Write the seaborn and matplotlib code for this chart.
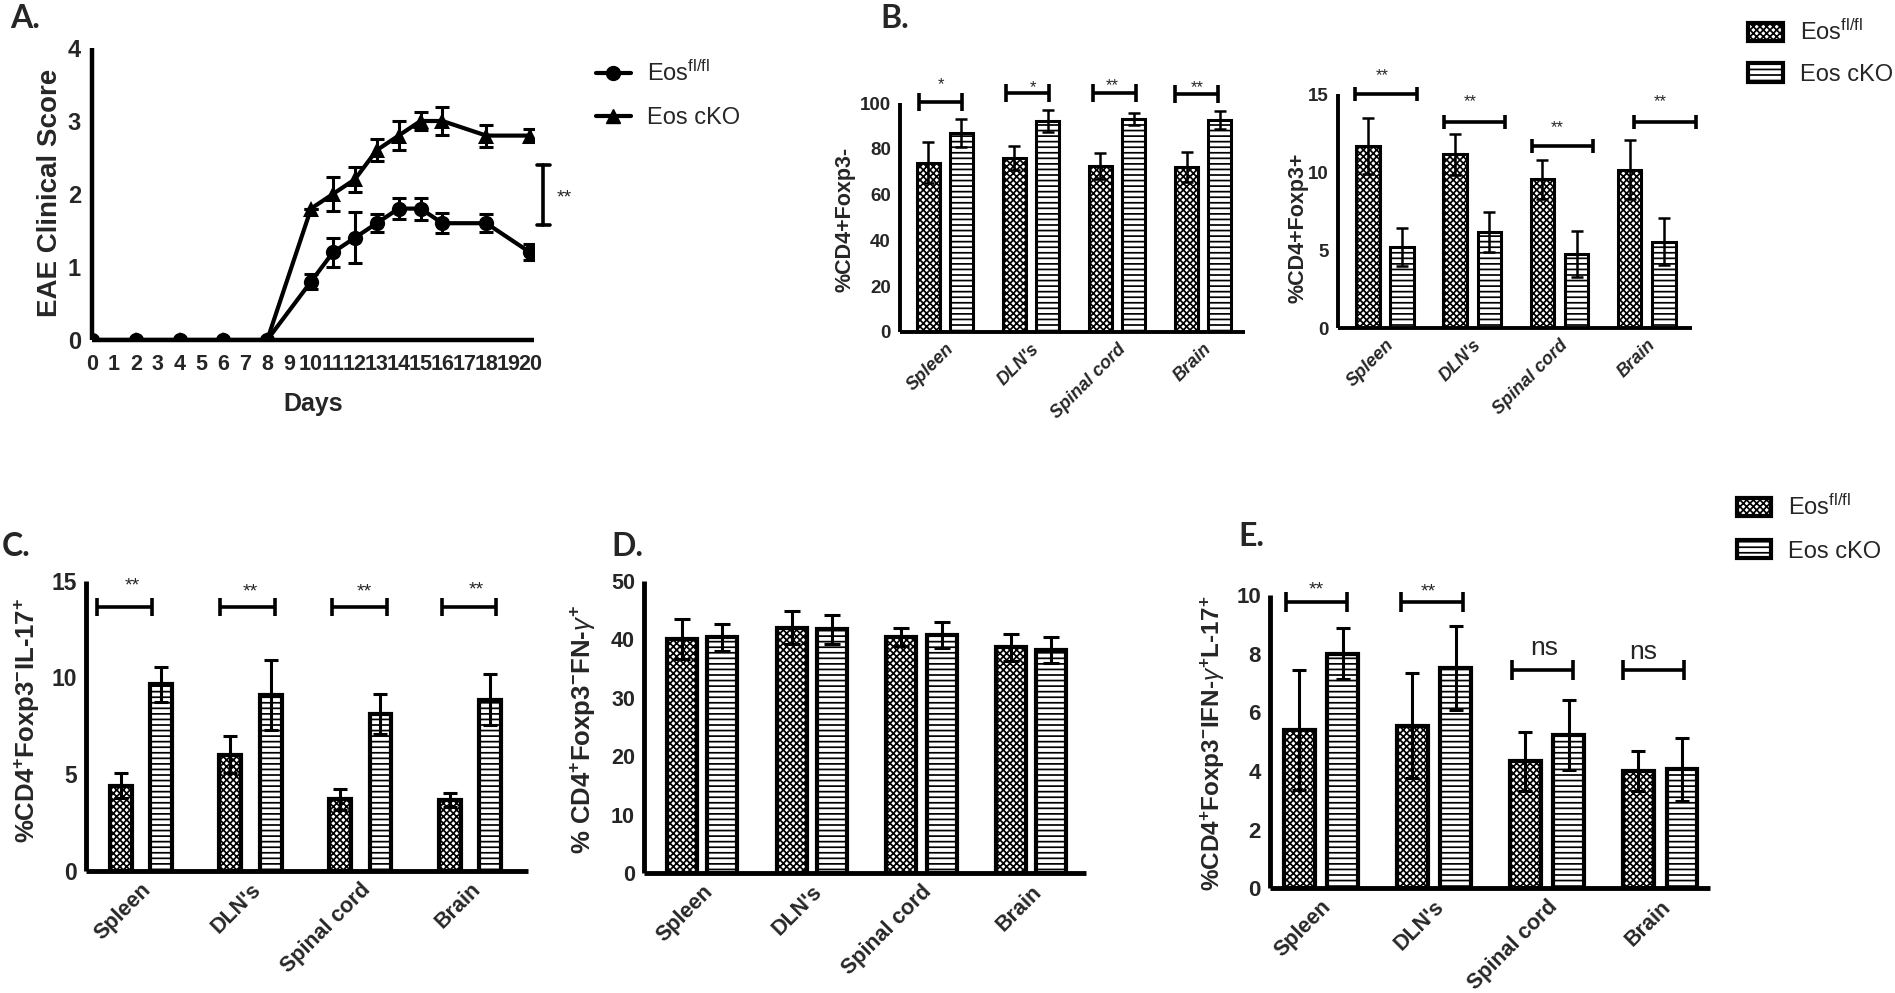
import numpy as np
import pandas as pd
import matplotlib
matplotlib.use("Agg")
import matplotlib.pyplot as plt
import seaborn as sns
from matplotlib import font_manager
from matplotlib.lines import Line2D
from matplotlib.patches import Patch

# ---------------- data ----------------
days = [0, 2, 4, 6, 8, 10, 11, 12, 13, 14, 15, 16, 18, 20]
eae_fl = [0, 0, 0, 0, 0, 0.8, 1.2, 1.4, 1.6, 1.8, 1.8, 1.6, 1.6, 1.2]
eae_fl_sem = [0, 0, 0, 0, 0, 0.1, 0.2, 0.35, 0.12, 0.14, 0.15, 0.14, 0.12, 0.11]
eae_cko = [0, 0, 0, 0, 0, 1.8, 2.0, 2.2, 2.6, 2.8, 3.0, 3.0, 2.8, 2.8]
eae_cko_sem = [0, 0, 0, 0, 0, 0, 0.23, 0.17, 0.15, 0.2, 0.13, 0.19, 0.15, 0.09]

tissues = ["Spleen", "DLN's", "Spinal cord", "Brain"]
groups = ["Eos fl/fl", "Eos cKO"]
legend_labels = [r"Eos$^{\mathregular{fl/fl}}$", "Eos cKO"]

b1_fl = [74, 76, 72.5, 72]
b1_fl_err = [9, 5.3, 5.8, 6.5]
b1_cko = [87, 92, 93, 92.5]
b1_cko_err = [6, 4.8, 2.6, 4]

b2_fl = [11.7, 11.15, 9.55, 10.15]
b2_fl_err = [1.8, 1.3, 1.25, 1.9]
b2_cko = [5.2, 6.15, 4.75, 5.55]
b2_cko_err = [1.25, 1.3, 1.45, 1.5]

c_fl = [4.4, 6.0, 3.7, 3.65]
c_fl_err = [0.65, 0.95, 0.55, 0.38]
c_cko = [9.65, 9.1, 8.1, 8.85]
c_cko_err = [0.9, 1.8, 1.05, 1.3]

d_fl = [40, 42, 40.4, 38.6]
d_fl_err = [3.4, 2.9, 1.6, 2.3]
d_cko = [40.3, 41.7, 40.7, 38.1]
d_cko_err = [2.3, 2.5, 2.2, 2.2]

e_fl = [5.4, 5.55, 4.33, 4.0]
e_fl_err = [2.05, 1.8, 1.0, 0.68]
e_cko = [8.0, 7.5, 5.23, 4.06]
e_cko_err = [0.87, 1.43, 1.2, 1.08]

# significance brackets: (x start, x end, y, label, label x, label y)
sig_b1 = [(-0.30, 0.20, 100.4, "*", -0.05, 107.9), (0.71, 1.21, 104.2, "*", 1.02, 106.5),
          (1.72, 2.22, 104.2, "**", 1.95, 107.4), (2.67, 3.17, 104.0, "**", 2.93, 106.5)]
sig_b2 = [(-0.34, 0.37, 15.0, "**", -0.03, 16.2), (0.67, 1.38, 13.25, "**", 0.975, 14.5),
          (1.68, 2.38, 11.7, "**", 1.98, 12.85), (2.86, 3.57, 13.25, "**", 3.16, 14.5)]
sig_c = [(-0.40, 0.10, 13.66, "**", -0.08, 14.73), (0.725, 1.226, 13.66, "**", 1.0, 14.43),
         (1.746, 2.247, 13.66, "**", 2.04, 14.43), (2.748, 3.24, 13.66, "**", 3.06, 14.52)]
sig_e = [(-0.31, 0.23, 9.77, "**", -0.04, 10.17), (0.708, 1.257, 9.77, "**", 0.947, 10.1),
         (1.69, 2.23, 7.44, "ns", 1.97, 8.2), (2.67, 3.21, 7.44, "ns", 2.85, 8.07)]

# ---------------- style ----------------
sns.set_style("white")
names = {f.name for f in font_manager.fontManager.ttflist}
MAIN = "Liberation Sans" if "Liberation Sans" in names else "DejaVu Sans"
NARROW = "Liberation Sans Narrow" if "Liberation Sans Narrow" in names else MAIN
LETTER = "Lato" if "Lato" in names else MAIN
plt.rcParams["font.family"] = [MAIN, "DejaVu Sans"]
plt.rcParams["mathtext.fontset"] = "custom"
plt.rcParams["mathtext.rm"] = MAIN
plt.rcParams["mathtext.bf"] = MAIN + ":bold"
plt.rcParams["mathtext.it"] = MAIN + ":italic"
plt.rcParams["hatch.linewidth"] = 1.25
plt.rcParams["hatch.color"] = "black"

W, H = 1895, 993
fig = plt.figure(figsize=(W / 100, H / 100), dpi=100)
fig.patch.set_facecolor("white")


def rect(l, r, t, b):
    return [l / W, 1 - b / H, (r - l) / W, (b - t) / H]


HATCH = ["xxxxx", "---"]


def style_axes(ax, spine_lw, ylab_size):
    sns.despine(ax=ax)
    for s in ("left", "bottom"):
        ax.spines[s].set_linewidth(spine_lw)
        ax.spines[s].set_color("black")
        ax.spines[s].set_capstyle("butt")
    ax.tick_params(axis="y", direction="out", length=5, width=spine_lw, pad=1.5,
                   labelsize=ylab_size, color="black")
    for lab in ax.get_yticklabels():
        lab.set_fontweight("bold")


def bar_panel(r, fl, fl_err, cko, cko_err, ymax, ystep, xlim, width, gap, ylabel,
              ylab_coords, ylab_size, tick_size, xlab_size, italic, spine_lw, bar_lw,
              err_lw, cap, sig=None, tick_half=0.0, sig_size=14):
    ax = fig.add_axes(r)
    df = pd.DataFrame({"tissue": tissues * 2,
                       "group": [groups[0]] * 4 + [groups[1]] * 4,
                       "value": list(fl) + list(cko)})
    sns.barplot(data=df, x="tissue", y="value", hue="group", order=tissues,
                hue_order=groups, width=width, gap=gap, errorbar=None,
                palette=["white", "white"], saturation=1, edgecolor="black",
                linewidth=bar_lw, legend=False, ax=ax)
    errs = [fl_err, cko_err]
    bar_conts = list(ax.containers)
    for k, cont in enumerate(bar_conts):
        for p, e in zip(cont.patches, errs[k]):
            p.set_hatch(HATCH[k])
            p.set_facecolor("white")
            p.set_edgecolor("black")
            ax.errorbar(p.get_x() + p.get_width() / 2, p.get_height(), yerr=e,
                        fmt="none", ecolor="black", elinewidth=err_lw, capsize=cap,
                        capthick=err_lw, zorder=5)
    ax.set_xlim(*xlim)
    ax.set_ylim(0, ymax)
    ax.set_yticks(np.arange(0, ymax + ystep / 2, ystep))
    ax.set_xlabel("")
    ax.set_ylabel(ylabel, fontsize=ylab_size, fontweight="bold")
    ax.yaxis.set_label_coords(*ylab_coords)
    style_axes(ax, spine_lw, tick_size)
    ax.set_xticks(range(len(tissues)))
    ax.set_xticklabels(tissues, rotation=45, ha="right", rotation_mode="anchor",
                       fontsize=xlab_size, fontweight="bold",
                       fontstyle="italic" if italic else "normal")
    ax.tick_params(axis="x", length=0, pad=6)
    if sig:
        for x0, x1, y, txt, tx, ty in sig:
            ax.plot([x0, x1], [y, y], color="black", lw=2.6, clip_on=False,
                    solid_capstyle="butt", zorder=6)
            for xx in (x0, x1):
                ax.plot([xx, xx], [y - tick_half, y + tick_half], color="black",
                        lw=2.6, clip_on=False, solid_capstyle="butt", zorder=6)
            if txt == "ns":
                ax.text(tx, ty, txt, ha="center", va="center", fontsize=sig_size + 5,
                        family=[NARROW, MAIN], clip_on=False)
            else:
                ax.text(tx, ty, txt, ha="center", va="center", fontsize=sig_size,
                        clip_on=False)
    return ax


# ---------------- panel A ----------------
axA = fig.add_axes(rect(92, 534, 48, 340))
dfA = pd.DataFrame({"day": days * 2, "score": eae_fl + eae_cko,
                    "group": [groups[0]] * len(days) + [groups[1]] * len(days)})
sns.lineplot(data=dfA, x="day", y="score", hue="group", style="group",
             hue_order=groups, style_order=groups, markers=["o", "^"], dashes=False,
             palette=["black", "black"], lw=3, markersize=11, markeredgewidth=0,
             legend=False, ax=axA, zorder=4)
axA.errorbar(days, eae_fl, yerr=eae_fl_sem, fmt="none", ecolor="black",
             elinewidth=2.2, capsize=5, capthick=2.2, zorder=5)
axA.errorbar(days, eae_cko, yerr=eae_cko_sem, fmt="none", ecolor="black",
             elinewidth=2.2, capsize=5, capthick=2.2, zorder=5)
axA.set_xlim(0, 20.18)
axA.set_ylim(0, 4)
axA.set_xticks(range(0, 21))
axA.set_yticks(range(0, 5))
axA.set_xlabel("Days", fontsize=18, fontweight="bold", labelpad=12)
axA.set_ylabel("EAE Clinical Score", fontsize=20, fontweight="bold")
axA.yaxis.set_label_coords(-0.066, 0.503)
style_axes(axA, 3.2, 17)
axA.tick_params(axis="y", length=6, pad=2)
axA.tick_params(axis="x", direction="out", length=7, width=2.4, pad=3)
for lab in axA.get_xticklabels():
    lab.set_fontweight("bold")
    lab.set_family([NARROW, MAIN])
    lab.set_fontsize(15.5)
# significance bracket in A
axA.plot([20.6, 20.6], [1.57, 2.40], color="black", lw=2.6, clip_on=False)
for yy in (1.57, 2.40):
    axA.plot([20.3, 20.9], [yy, yy], color="black", lw=2.6, clip_on=False)
axA.text(21.55, 1.95, "**", ha="center", va="center", fontsize=14, clip_on=False)

fig.legend(handles=[Line2D([], [], color="black", lw=3, marker="o", ms=10),
                    Line2D([], [], color="black", lw=3, marker="^", ms=10)],
           labels=legend_labels, loc="upper left",
           bbox_to_anchor=(596 / W, 1 - 61 / H), frameon=False, borderpad=0,
           borderaxespad=0, handlelength=1.48, handletextpad=0.68,
           labelspacing=0.88, prop={"family": MAIN, "size": 17})

# ---------------- panel B ----------------
bar_panel(rect(900, 1245, 103, 332), b1_fl, b1_fl_err, b1_cko, b1_cko_err, 100, 20,
          (-0.523, 3.488), 0.768, 0.305, "%CD4+Foxp3-", (-0.13, 0.49), 15.5, 13.5, 13,
          True, 2.8, 2.2, 1.8, 4.5, sig_b1, 3.9, 12)
bar_panel(rect(1338, 1692, 94.3, 328), b2_fl, b2_fl_err, b2_cko, b2_cko_err, 15, 5,
          (-0.54, 3.52), 0.784, 0.31, "%CD4+Foxp3+", (-0.082, 0.43),
          15.5, 13.5, 13, True, 2.8, 2.2, 1.8, 4.5, sig_b2, 0.45, 12)

legend_handles = [Patch(facecolor="white", edgecolor="black", hatch=HATCH[0], lw=3),
                  Patch(facecolor="white", edgecolor="black", hatch=HATCH[1], lw=3)]
fig.legend(handles=legend_handles, labels=legend_labels, loc="upper left",
           bbox_to_anchor=(1748 / W, 1 - 20 / H), frameon=False, borderpad=0,
           borderaxespad=0, handlelength=1.48, handleheight=0.85, handletextpad=0.72,
           labelspacing=0.77, prop={"family": MAIN, "size": 17})

# ---------------- panel C ----------------
bar_panel(rect(86, 528, 580.7, 870.7), c_fl, c_fl_err, c_cko, c_cko_err, 15, 5,
          (-0.5, 3.53), 0.74, 0.46,
          r"%CD4$^{\mathbf{+}}$Foxp3$^{\mathbf{-}}$IL-17$^{\mathbf{+}}$", (-0.10, 0.52),
          18.5, 16.5, 15.5, False, 3.5, 3.0, 2.2, 5, sig_c, 0.47, 14)

# ---------------- panel D ----------------
bar_panel(rect(644, 1086, 580.7, 873.3), d_fl, d_fl_err, d_cko, d_cko_err, 50, 10,
          (-0.53, 3.5), 0.74, 0.26,
          r"% CD4$^{\mathbf{+}}$Foxp3$^{\mathbf{-}}$FN-$\gamma^{\mathbf{+}}$",
          (-0.104, 0.49), 18.5, 15.5, 15.5, False, 3.5, 3.0, 2.2, 5.5)

# ---------------- panel E ----------------
bar_panel(rect(1270, 1710, 595, 888.3), e_fl, e_fl_err, e_cko, e_cko_err, 10, 2,
          (-0.45, 3.44), 0.77, 0.29,
          r"%CD4$^{\mathbf{+}}$Foxp3$^{\mathbf{-}}$IFN-$\gamma^{\mathbf{+}}$L-17$^{\mathbf{+}}$",
          (-0.098, 0.495), 17.5, 16, 15.5, False, 3.5, 3.0, 2.2, 5, sig_e, 0.34, 14)

fig.legend(handles=legend_handles, labels=legend_labels, loc="upper left",
           bbox_to_anchor=(1737 / W, 1 - 495 / H), frameon=False, borderpad=0,
           borderaxespad=0, handlelength=1.45, handleheight=0.8, handletextpad=0.7,
           labelspacing=0.85, prop={"family": NARROW, "size": 17})

# ---------------- panel letters ----------------
for txt, x, y in [("A.", 10, 4), ("B.", 880, 4), ("C.", 2, 532), ("D.", 611, 532),
                  ("E.", 1238, 522)]:
    fig.text(x / W, 1 - y / H, txt, ha="left", va="top", fontsize=23,
             fontweight="bold", family=[LETTER, MAIN])

fig.savefig("out.png", dpi=100, facecolor="white")
